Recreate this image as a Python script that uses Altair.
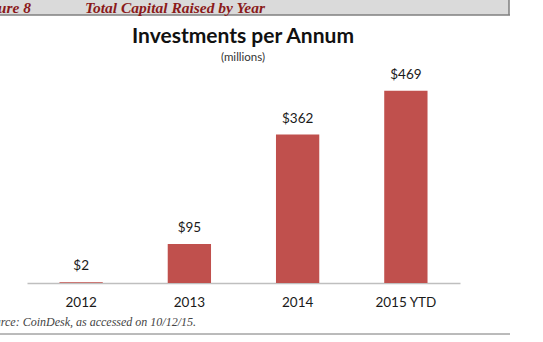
import altair as alt
import pandas as pd

years = ["2012", "2013", "2014", "2015 YTD"]
amounts = [2, 95, 362, 469]

df = pd.DataFrame({"year": years, "amount": amounts})
df["label"] = ["$" + str(v) for v in amounts]

# Plot area geometry (pixels) inside the 543x342 page
PL, PT, W, H = 27, 78, 433, 205

base = alt.Chart(df)

bars = base.mark_bar(color="#c0504d").encode(
    x=alt.X("year:N", sort=years,
            scale=alt.Scale(paddingInner=0.6, paddingOuter=0.3),
            axis=alt.Axis(title=None, labelAngle=0, ticks=False,
                          domainColor="#bfbfbf", domainWidth=1.5,
                          labelFont="Lato", labelFontSize=13.5,
                          labelColor="#1a1a1a", labelPadding=12)),
    y=alt.Y("amount:Q", scale=alt.Scale(domain=[0, 500], nice=False),
            axis=None),
)

values = base.mark_text(font="Lato", fontSize=13.5, color="#1a1a1a",
                        baseline="middle", dy=-16).encode(
    x=alt.X("year:N", sort=years),
    y="amount:Q",
    text="label:N",
)

# Figure header strip
header_bg = alt.Chart(pd.DataFrame({"k": [0]})).mark_rect(
    color="#dadada").encode(
    x=alt.value(-PL), x2=alt.value(509 - PL),
    y=alt.value(-PT), y2=alt.value(15 - PT))
header_bottom = alt.Chart(pd.DataFrame({"k": [0]})).mark_rule(
    color="#7f7f7f", strokeWidth=1.5).encode(
    x=alt.value(-PL), x2=alt.value(510 - PL),
    y=alt.value(15 - PT))
header_right = alt.Chart(pd.DataFrame({"k": [0]})).mark_rule(
    color="#7f7f7f", strokeWidth=1.5).encode(
    x=alt.value(509 - PL),
    y=alt.value(-PT), y2=alt.value(15 - PT))

header_num = alt.Chart(pd.DataFrame({"t": ["Figure 8"]})).mark_text(
    font="Liberation Serif", fontStyle="italic", fontWeight="bold",
    fontSize=15.5, color="#8b1a1a", align="right", baseline="alphabetic").encode(
    x=alt.value(31 - PL), y=alt.value(12.5 - PT), text="t:N")
header_title = alt.Chart(pd.DataFrame({"t": ["Total Capital Raised by Year"]})).mark_text(
    font="Liberation Serif", fontStyle="italic", fontWeight="bold",
    fontSize=15.5, color="#8b1a1a", align="left", baseline="alphabetic").encode(
    x=alt.value(85 - PL), y=alt.value(12.5 - PT), text="t:N")

# Chart title and subtitle
title = alt.Chart(pd.DataFrame({"t": ["Investments per Annum"]})).mark_text(
    font="Lato", fontWeight="bold", fontSize=21, color="#111111",
    align="center", baseline="middle").encode(
    x=alt.value(243 - PL), y=alt.value(37 - PT), text="t:N")
subtitle = alt.Chart(pd.DataFrame({"t": ["(millions)"]})).mark_text(
    font="Lato", fontSize=11.5, color="#333333",
    align="center", baseline="middle").encode(
    x=alt.value(243 - PL), y=alt.value(58 - PT), text="t:N")

# Source note and bottom rule
source = alt.Chart(pd.DataFrame({"t": ["Source: CoinDesk, as accessed on 10/12/15."]})).mark_text(
    font="Liberation Serif", fontStyle="italic", fontSize=12, color="#444444",
    align="right", baseline="middle").encode(
    x=alt.value(196 - PL), y=alt.value(322 - PT), text="t:N")
bottom_rule = alt.Chart(pd.DataFrame({"k": [0]})).mark_rule(
    color="#777777", strokeWidth=1).encode(
    x=alt.value(-PL), x2=alt.value(510 - PL),
    y=alt.value(334 - PT))

chart = alt.layer(
    header_bg, header_bottom, header_right, header_num, header_title,
    title, subtitle, bars, values, source, bottom_rule
).properties(
    width=W, height=H,
    background="white",
    autosize=alt.AutoSizeParams(type="none"),
    padding={"left": PL, "top": PT, "right": 543 - PL - W, "bottom": 342 - PT - H},
).configure_view(strokeWidth=0)

chart.save("out.html", embed_options={"renderer": "svg", "actions": False})
